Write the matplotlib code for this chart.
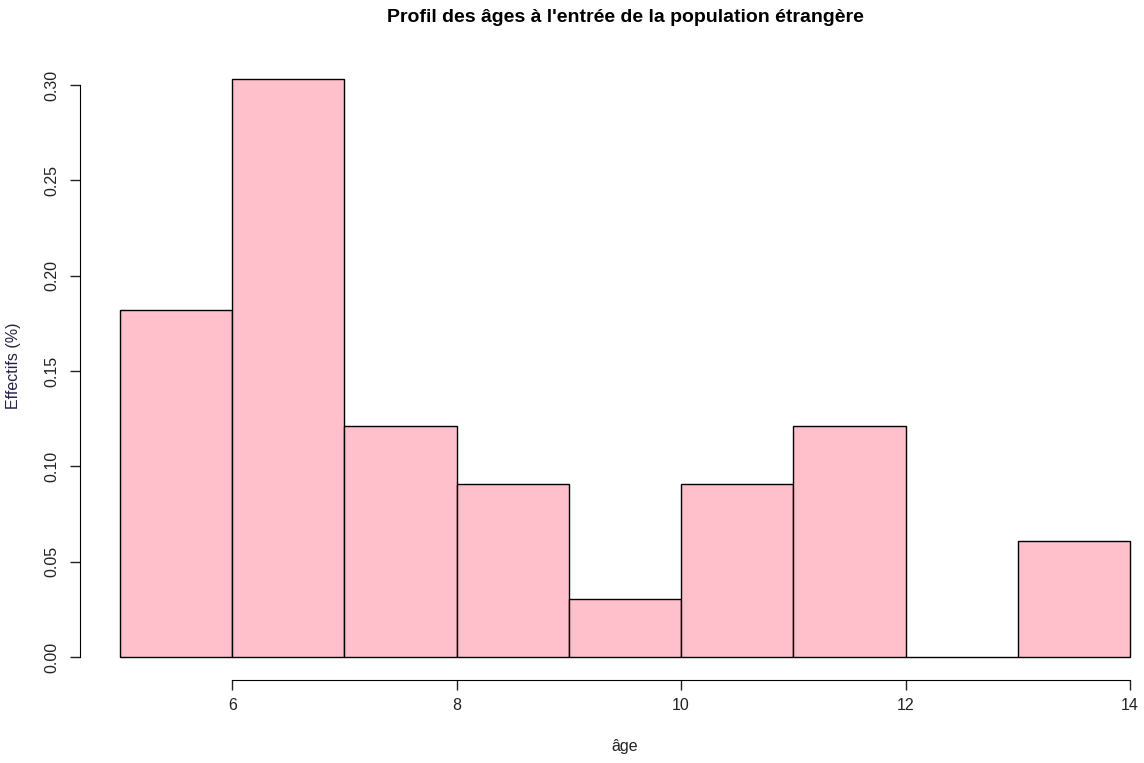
import numpy as np
import matplotlib.pyplot as plt

plt.rcParams['font.family'] = ['Liberation Sans', 'DejaVu Sans']

# histogramme des âges (proportions)
bords = [5, 6, 7, 8, 9, 10, 11, 12, 13, 14]
effectifs = [6, 10, 4, 3, 1, 3, 4, 0, 2]
total = 33
props = np.array(effectifs) / total
xticks = [6, 8, 10, 12, 14]
yticks = [0.00, 0.05, 0.10, 0.15, 0.20, 0.25, 0.30]

W, H = 1144, 763
fig = plt.figure(figsize=(W / 100, H / 100), dpi=100)
# zone de tracé en pixels : x 120..1130, y 85..657
ax = fig.add_axes([120 / W, 1 - 657 / H, (1130 - 120) / W, (657 - 85) / H])

ax.bar(bords[:-1], props, width=np.diff(bords), align='edge',
       color='#FFC0CB', edgecolor='black', linewidth=1.0, clip_on=False)

ax.set_xlim(5, 14)
ax.set_ylim(0, 0.30)

for s in ['top', 'right']:
    ax.spines[s].set_visible(False)
ax.spines['left'].set_position(('outward', 40 * 0.72))
ax.spines['bottom'].set_position(('outward', 23 * 0.72))
ax.spines['left'].set_bounds(0, 0.30)
ax.spines['bottom'].set_bounds(6, 14)

ax.set_xticks(xticks)
ax.set_xticklabels([str(t) for t in xticks])
ax.set_yticks(yticks)
ax.set_yticklabels(['%.2f' % t for t in yticks], rotation=90, va='center')
ax.tick_params(length=7, width=1, labelsize=11.5, colors='#222222', pad=6)
ax.tick_params(axis='y', pad=8)

fig.text(625 / W, 1 - 17 / H, "Profil des âges à l'entrée de la population étrangère",
         ha='center', va='center', fontsize=14, fontweight='bold')
fig.text(625 / W, 1 - 747 / H, 'âge', ha='center', va='center', fontsize=11.5, color='#222222')
fig.text(14 / W, 1 - 366 / H, 'Effectifs (%)', ha='center', va='center', rotation=90,
         fontsize=11.5, color='#222244')

fig.savefig('out.png', dpi=100)
